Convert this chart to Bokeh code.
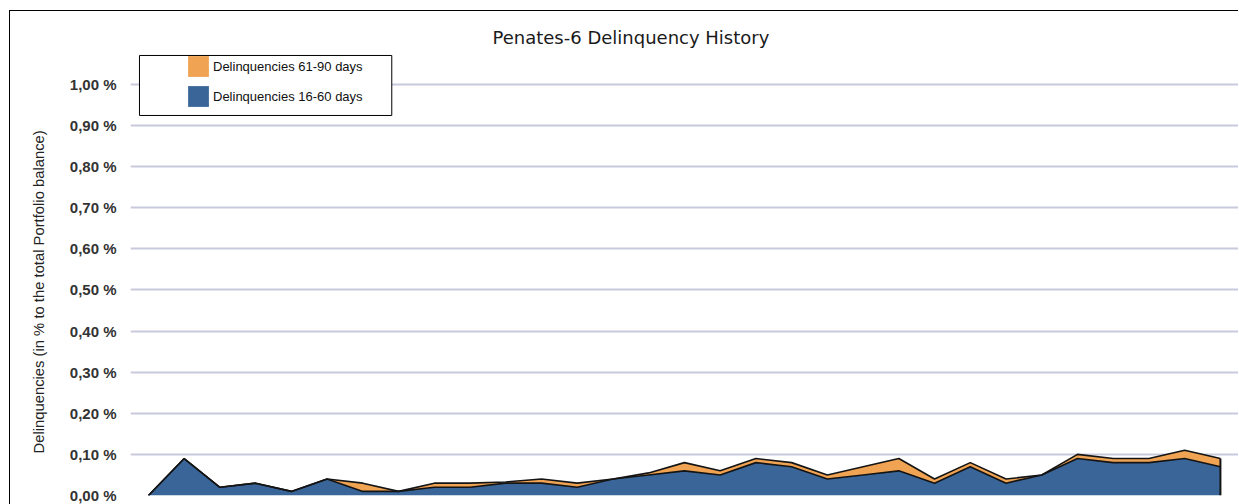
from bokeh.plotting import figure
from bokeh.layouts import column
from bokeh.models import (ColumnDataSource, FixedTicker, Legend, LegendItem,
                          BoxAnnotation, Range1d, Title)
from bokeh.transform import stack
from bokeh.embed import file_html
from bokeh.resources import INLINE

# ---------------- data ----------------
periods = list(range(31))
delinq_16_60 = [0.00, 0.09, 0.02, 0.03, 0.01, 0.04, 0.01, 0.01, 0.02, 0.02,
                0.03, 0.03, 0.02, 0.04, 0.05, 0.06, 0.05, 0.08, 0.07, 0.04,
                0.05, 0.06, 0.03, 0.07, 0.03, 0.05, 0.09, 0.08, 0.08, 0.09,
                0.07]
delinq_61_90 = [0.00, 0.00, 0.00, 0.00, 0.00, 0.00, 0.02, 0.00, 0.01, 0.01,
                0.003, 0.01, 0.01, 0.00, 0.005, 0.02, 0.01, 0.01, 0.01, 0.01,
                0.02, 0.03, 0.01, 0.01, 0.01, 0.00, 0.01, 0.01, 0.01, 0.02,
                0.02]
series_names = ["Delinquencies 16-60 days", "Delinquencies 61-90 days"]
y_ticks = [i / 10 for i in range(11)]
y_tick_labels = ["0,00 %", "0,10 %", "0,20 %", "0,30 %", "0,40 %", "0,50 %",
                 "0,60 %", "0,70 %", "0,80 %", "0,90 %", "1,00 %"]

BLUE = "#3a6598"
ORANGE = "#f0a352"
EDGE = "#141414"

src = ColumnDataSource(dict(period=periods, d16_60=delinq_16_60, d61_90=delinq_61_90))

p = figure(width=1231, height=493, output_backend="svg", toolbar_location=None,
           x_range=Range1d(-0.502, 30.506), y_range=Range1d(0, 1.0827),
           x_axis_type=None,
           min_border_left=120, min_border_right=0,
           min_border_top=39, min_border_bottom=9)
p.outline_line_color = None
p.background_fill_color = "white"
p.border_fill_color = "white"

# title
p.title.text = "Penates-6 Delinquency History"
p.title.align = "left"
p.title.offset = 362
p.title.standoff = 6
p.title.text_font = "DejaVu Sans"
p.title.text_font_size = "18px"
p.title.text_font_style = "normal"
p.title.text_color = "#1a1a1a"

# y axis
yax = p.yaxis[0]
yax.ticker = FixedTicker(ticks=y_ticks)
yax.major_label_overrides = dict(zip(y_ticks, y_tick_labels))
yax.major_tick_out = 0
yax.major_tick_in = 0
yax.minor_tick_out = 0
yax.minor_tick_in = 0
yax.axis_line_color = None
yax.major_label_standoff = 14
yax.major_label_text_font = "Liberation Sans"
yax.major_label_text_font_size = "15px"
yax.major_label_text_font_style = "bold"
yax.major_label_text_color = "#333333"

p.ygrid.grid_line_color = "#c9c9dd"
p.ygrid.grid_line_width = 2

# stacked areas
areas = p.varea_stack(stackers=["d16_60", "d61_90"], x="period",
                      fill_color=[BLUE, ORANGE], source=src)
p.line(x="period", y=stack("d16_60"), source=src, line_color=EDGE, line_width=1.6)
p.line(x="period", y=stack("d16_60", "d61_90"), source=src, line_color=EDGE, line_width=1.6)
p.segment(x0=periods[-1], y0=0, x1=periods[-1],
          y1=delinq_16_60[-1] + delinq_61_90[-1], line_color=EDGE, line_width=2)

# legend box
box = BoxAnnotation(left=-0.251, right=6.81, top=1.0706, bottom=0.9246,
                    fill_color="white", fill_alpha=1.0,
                    line_color="black", line_width=1, line_alpha=1.0)
p.add_layout(box)

legend = Legend(items=[LegendItem(label=series_names[1], renderers=[areas[1]]),
                       LegendItem(label=series_names[0], renderers=[areas[0]])],
                location=(55, 386), border_line_color=None,
                background_fill_alpha=0, padding=0, margin=0, spacing=4,
                glyph_width=26, glyph_height=26, label_standoff=2,
                label_height=26,
                label_text_font="Liberation Sans", label_text_font_size="13px",
                label_text_baseline="top",
                label_text_color="#111111")
p.add_layout(legend)

# y axis title (vertical, on the left)
ytitle = Title(text="Delinquencies (in % to the total Portfolio balance)",
               align="left", offset=42, vertical_align="top", standoff=36,
               text_font="Liberation Sans", text_font_size="14.8px",
               text_font_style="normal", text_color="#222222")
p.add_layout(ytitle, "left")

page = column(p, styles={"margin-left": "9px", "margin-top": "10px",
                         "border-left": "1px solid #000000",
                         "border-top": "1px solid #000000",
                         "overflow": "hidden", "width": "1229px",
                         "max-width": "1229px"})

open("out.html", "w").write(file_html(page, INLINE))
